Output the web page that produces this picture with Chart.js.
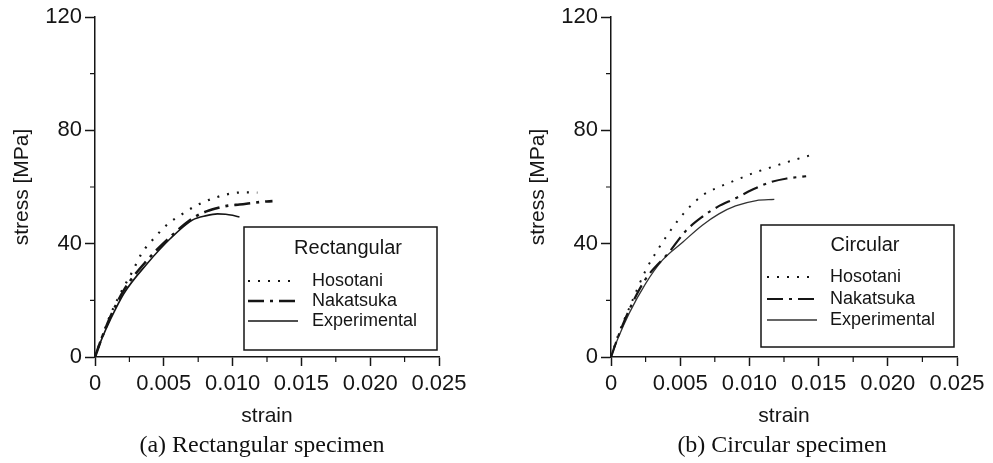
<!DOCTYPE html>
<html><head><meta charset="utf-8">
<script src="https://cdn.jsdelivr.net/npm/chart.js@4.4.1/dist/chart.umd.min.js"></script>
<style>
html,body{margin:0;padding:0;background:#fff;}
#wrap{position:relative;width:993px;height:463px;overflow:hidden;background:#fff;}
.pane{position:absolute;top:0;height:463px;}
.cap{position:absolute;top:431px;line-height:27px;font-family:"Liberation Serif","DejaVu Serif",serif;font-size:24px;color:#111;white-space:nowrap;transform:translateX(-50%);}
</style></head>
<body>
<div id="wrap">
 <div class="pane" style="left:0;width:496px"><canvas id="c1" width="496" height="463" style="width:496px;height:463px"></canvas></div>
 <div class="pane" style="left:496px;width:497px"><canvas id="c2" width="497" height="463" style="width:497px;height:463px"></canvas></div>
 <div class="cap" style="left:262px">(a) Rectangular specimen</div>
 <div class="cap" style="left:782px">(b) Circular specimen</div>
</div>
<script>
// ---- tick labels ----
const strainTicks = [0, 0.005, 0.010, 0.015, 0.020, 0.025];
const stressTicks = [0, 40, 80, 120];
const minorStrainTicks = [0.0025, 0.0075, 0.0125, 0.0175, 0.0225];
const minorStressTicks = [20, 60, 100];
const seriesNames = ['Hosotani', 'Nakatsuka', 'Experimental'];

// ---- (a) Rectangular specimen ----
const rectHosotaniStrain = [0, 0.0005, 0.001, 0.0018, 0.0027, 0.0034, 0.0044, 0.0053, 0.0062, 0.0073, 0.0086, 0.0100, 0.0110, 0.0118];
const rectHosotaniStress = [0, 7, 13.5, 22, 30, 36.6, 42.5, 47, 50, 53.3, 56, 57.8, 58.1, 58];
const rectNakatsukaStrain = [0, 0.0005, 0.0011, 0.0021, 0.0038, 0.0055, 0.0073, 0.0089, 0.0098, 0.0105, 0.0115, 0.0122, 0.0129];
const rectNakatsukaStress = [0, 6.8, 14, 23.6, 34.2, 42.5, 49.6, 52.6, 53.5, 53.8, 54.4, 54.8, 55];
const rectExpStrain = [0, 0.0005, 0.0011, 0.0021, 0.0038, 0.0055, 0.0071, 0.0081, 0.0089, 0.0095, 0.0100, 0.0105];
const rectExpStress = [0, 6.5, 13, 22.4, 33, 41.9, 48.4, 49.9, 50.5, 50.4, 50, 49.4];

// ---- (b) Circular specimen ----
const circHosotaniStrain = [0, 0.0005, 0.00145, 0.0025, 0.0035, 0.0045, 0.0054, 0.0066, 0.0078, 0.009, 0.0105, 0.0114, 0.013, 0.0144];
const circHosotaniStress = [0, 7.5, 18.8, 30.5, 38.8, 46, 51.5, 57, 60, 62.4, 65.3, 66.7, 69.2, 71.2];
const circNakatsukaStrain = [0, 0.0005, 0.0013, 0.0025, 0.0042, 0.0054, 0.0066, 0.0077, 0.009, 0.0102, 0.0114, 0.0127, 0.0141];
const circNakatsukaStress = [0, 7, 16.5, 27.5, 37, 44.5, 49.5, 53, 56, 59, 61.5, 63, 63.8];
const circExpStrain = [0, 0.0005, 0.0013, 0.0025, 0.0037, 0.0052, 0.0066, 0.0078, 0.009, 0.0105, 0.0118];
const circExpStress = [0, 6.5, 15.3, 25.9, 34.1, 40.6, 46.5, 50.5, 53.3, 55.2, 55.6];

const pts = (xs, ys) => xs.map((x, i) => ({x: x, y: ys[i]}));
const SANS = '"Liberation Sans", Arial, sans-serif';
const INK = '#151515';

const minorTicksPlugin = {
  id: 'minorTicks',
  afterDraw(chart) {
    const {ctx, scales: {x, y}} = chart;
    ctx.save();
    ctx.strokeStyle = INK; ctx.lineWidth = 1.2;
    ctx.beginPath();
    minorStrainTicks.forEach(v => { const px = x.getPixelForValue(v); ctx.moveTo(px, y.bottom); ctx.lineTo(px, y.bottom + 5); });
    minorStressTicks.forEach(v => { const py = y.getPixelForValue(v); ctx.moveTo(x.left, py); ctx.lineTo(x.left - 5, py); });
    ctx.stroke();
    ctx.restore();
  }
};

const boxLegendPlugin = {
  id: 'boxLegend',
  afterDraw(chart, args, o) {
    const ctx = chart.ctx;
    ctx.save();
    ctx.fillStyle = '#fff';
    ctx.fillRect(o.box[0], o.box[1], o.box[2] - o.box[0], o.box[3] - o.box[1]);
    ctx.strokeStyle = INK; ctx.lineWidth = 1.5;
    ctx.strokeRect(o.box[0], o.box[1], o.box[2] - o.box[0], o.box[3] - o.box[1]);
    ctx.fillStyle = INK;
    ctx.textBaseline = 'middle';
    ctx.textAlign = 'center';
    ctx.font = '20px ' + SANS;
    ctx.fillText(o.title, o.titleX, o.titleY);
    ctx.textAlign = 'left';
    ctx.font = '18px ' + SANS;
    chart.data.datasets.forEach((ds, i) => {
      const yy = o.rows[i];
      ctx.save();
      ctx.strokeStyle = ds.borderColor;
      ctx.lineWidth = ds.borderWidth;
      ctx.setLineDash(ds.borderDash || []);
      ctx.beginPath();
      ctx.moveTo(o.lineX[0], yy); ctx.lineTo(o.lineX[1], yy);
      ctx.stroke();
      ctx.restore();
      ctx.fillText(ds.label, o.textX, yy);
    });
    ctx.restore();
  }
};

function makeChart(id, sets, padLeft, padRight, legendOpts, styles) {
  return new Chart(document.getElementById(id), {
    type: 'scatter',
    data: {
      datasets: sets.map((s, i) => Object.assign({
        label: seriesNames[i],
        data: s,
        showLine: true,
        pointRadius: 0,
        borderColor: INK,
        backgroundColor: INK,
        fill: false,
        cubicInterpolationMode: 'monotone'
      }, styles[i]))
    },
    options: {
      responsive: false,
      animation: false,
      layout: {padding: {left: padLeft, right: padRight, top: 17, bottom: 0}},
      plugins: {legend: {display: false}, tooltip: {enabled: false}, boxLegend: legendOpts},
      scales: {
        x: {
          type: 'linear', min: 0, max: 0.025,
          afterBuildTicks: s => { s.ticks = strainTicks.map(v => ({value: v})); },
          afterFit: s => { s.height = 106; },
          ticks: {callback: v => v === 0 ? '0' : v.toFixed(3), font: {family: SANS, size: 22}, color: INK, padding: 5, maxRotation: 0, autoSkip: false},
          grid: {drawOnChartArea: false, drawTicks: true, tickLength: 9, tickColor: INK, tickWidth: 1.5},
          border: {display: true, color: INK, width: 1.5},
          title: {display: true, text: 'strain', font: {family: SANS, size: 21}, color: INK, padding: {top: 0, bottom: 34}}
        },
        y: {
          type: 'linear', min: 0, max: 120,
          afterBuildTicks: s => { s.ticks = stressTicks.map(v => ({value: v})); },
          afterFit: s => { s.width = 95; },
          ticks: {callback: v => String(v), font: {family: SANS, size: 22}, color: INK, padding: 3},
          grid: {drawOnChartArea: false, drawTicks: true, tickLength: 10, tickColor: INK, tickWidth: 1.5},
          border: {display: true, color: INK, width: 1.5},
          title: {display: true, text: 'stress [MPa]', font: {family: SANS, size: 21}, color: INK, padding: {top: 10, bottom: 0}}
        }
      }
    },
    plugins: [minorTicksPlugin, boxLegendPlugin]
  });
}

makeChart('c1', [
  pts(rectHosotaniStrain, rectHosotaniStress),
  pts(rectNakatsukaStrain, rectNakatsukaStress),
  pts(rectExpStrain, rectExpStress)
], 0, 57, {
  title: 'Rectangular', box: [244, 227, 437, 350], titleX: 348, titleY: 248,
  rows: [281, 301, 321], lineX: [248, 298], textX: 312
}, [
  {borderWidth: 2.2, borderDash: [2, 8]},
  {borderWidth: 2.6, borderDash: [16, 6, 3, 6]},
  {borderWidth: 1.6}
]);

makeChart('c2', [
  pts(circHosotaniStrain, circHosotaniStress),
  pts(circNakatsukaStrain, circNakatsukaStress),
  pts(circExpStrain, circExpStress)
], 20, 36, {
  title: 'Circular', box: [265, 225, 458, 347], titleX: 369, titleY: 245,
  rows: [277, 299, 320], lineX: [271, 321], textX: 334
}, [
  {borderWidth: 2, borderDash: [2, 8]},
  {borderWidth: 2.2, borderDash: [16, 6, 3, 6]},
  {borderWidth: 1.3, borderColor: '#333'}
]);
</script>
</body></html>
